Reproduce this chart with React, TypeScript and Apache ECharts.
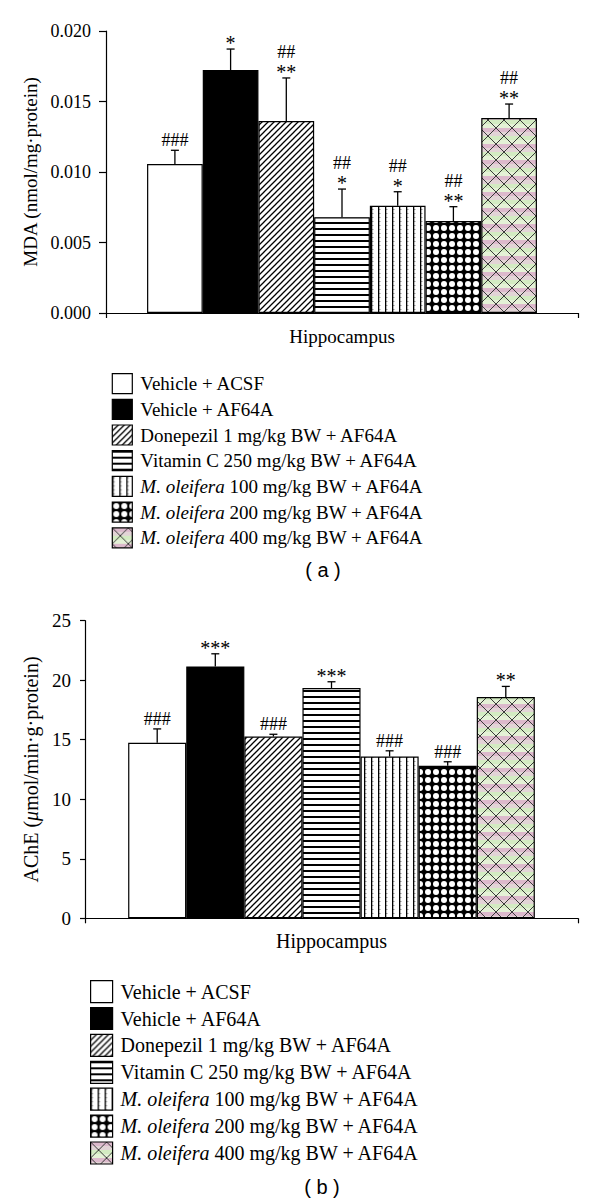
import React, { useEffect, useRef } from 'react';
import * as echarts from 'echarts';

// ---------- data ----------
const categories = ['Hippocampus'];
const groups = [
  'Vehicle + ACSF',
  'Vehicle + AF64A',
  'Donepezil 1 mg/kg BW + AF64A',
  'Vitamin C 250 mg/kg BW + AF64A',
  'M. oleifera 100 mg/kg BW + AF64A',
  'M. oleifera 200 mg/kg BW + AF64A',
  'M. oleifera 400 mg/kg BW + AF64A',
];
const mdaMean = [0.01057, 0.01723, 0.01362, 0.00679, 0.00761, 0.00652, 0.01383];
const mdaErr = [0.00097, 0.00149, 0.00305, 0.002, 0.00099, 0.00102, 0.00099];
// significance marks, bottom line first
const mdaMarks = [['###'], ['*'], ['**', '##'], ['*', '##'], ['*', '##'], ['**', '##'], ['**', '##']];
const mdaTicks = { min: 0, max: 0.02, interval: 0.005 };

const acheMean = [14.74, 21.16, 15.27, 19.35, 13.59, 12.81, 18.59];
const acheErr = [1.17, 1.06, 0.19, 0.52, 0.48, 0.34, 0.89];
const acheMarks = [['###'], ['***'], ['###'], ['***'], ['###'], ['###'], ['**']];
const acheTicks = { min: 0, max: 25, interval: 5 };

const SERIF = '"Liberation Serif", "Times New Roman", serif';
const SANS = '"Liberation Sans", Arial, sans-serif';

function tile(w: number, h: number, draw: (c: CanvasRenderingContext2D) => void) {
  const cv = document.createElement('canvas');
  cv.width = w;
  cv.height = h;
  const ctx = cv.getContext('2d')!;
  draw(ctx);
  return { image: cv, repeat: 'repeat', imageWidth: w, imageHeight: h } as any;
}

function makePatterns() {
  const diag = tile(6, 6, (c) => {
    c.fillStyle = '#fff';
    c.fillRect(0, 0, 6, 6);
    c.strokeStyle = '#000';
    c.lineWidth = 1.3;
    c.beginPath();
    c.moveTo(-1, 7); c.lineTo(7, -1);
    c.moveTo(-4, 4); c.lineTo(4, -4);
    c.moveTo(2, 10); c.lineTo(10, 2);
    c.stroke();
  });
  const horiz = tile(6, 6, (c) => {
    c.fillStyle = '#fff';
    c.fillRect(0, 0, 6, 6);
    c.fillStyle = '#000';
    c.fillRect(0, 0, 6, 2);
  });
  const vert = tile(7, 4, (c) => {
    c.fillStyle = '#fff';
    c.fillRect(0, 0, 7, 4);
    c.fillStyle = '#000';
    c.fillRect(0, 0, 1.3, 4);
    c.fillStyle = '#555';
    c.fillRect(1.3, 1, 1, 1);
  });
  const dots = tile(8, 8, (c) => {
    c.fillStyle = '#000';
    c.fillRect(0, 0, 8, 8);
    c.fillStyle = '#fff';
    c.beginPath();
    c.arc(4, 4, 3.0, 0, Math.PI * 2);
    c.fill();
  });
  const cross = tile(16, 16, (c) => {
    const bands = ['#dcb9cc', '#e2d4d6', '#d3ebc2', '#e4f1d6'];
    for (let k = 0; k < 4; k++) {
      c.fillStyle = bands[k];
      c.fillRect(0, k * 4, 16, 4);
    }
    c.strokeStyle = '#3a3a3a';
    c.lineWidth = 1;
    c.beginPath();
    c.moveTo(0, 0); c.lineTo(16, 16);
    c.moveTo(16, 0); c.lineTo(0, 16);
    c.stroke();
  });
  return ['#ffffff', '#000000', diag, horiz, vert, dots, cross];
}

function legendFormatter(name: string) {
  if (name.startsWith('M. oleifera')) {
    return '{i|M. oleifera}{n|' + name.slice('M. oleifera'.length) + '}';
  }
  return name;
}

function errRender(marks: string[][], bw: number, fs: number, gap: number) {
  return (params: any, api: any) => {
    const i = params.dataIndex;
    const base = api.coord([api.value(0), api.value(1)]);
    const top = api.coord([api.value(0), api.value(2)]);
    const x = base[0] + (i - 3) * bw;
    const st = { stroke: '#000', lineWidth: 1.3 };
    const children: any[] = [
      { type: 'line', shape: { x1: x, y1: base[1], x2: x, y2: top[1] }, style: st },
      { type: 'line', shape: { x1: x - 4, y1: top[1], x2: x + 4, y2: top[1] }, style: st },
    ];
    marks[i].forEach((t, k) => {
      const isStar = t.indexOf('*') >= 0;
      children.push({
        type: 'text',
        style: {
          text: t,
          x,
          y: top[1] - 10 - k * gap + (isStar ? 4 : 0),
          align: 'center',
          verticalAlign: 'middle',
          fontSize: isStar ? fs + 2 : fs,
          fontFamily: SERIF,
          fill: '#000',
        },
      });
    });
    return { type: 'group', children };
  };
}

export default function App() {
  const ref = useRef<HTMLDivElement>(null);
  useEffect(() => {
    if (!ref.current) return;
    const chart = echarts.init(ref.current, null, { renderer: 'svg' });
    const patterns = makePatterns();
    const bwA = 55.7;
    const bwB = 58.1;
    const axisLine = { lineStyle: { color: '#000', width: 1.2 } };

    const barSeries = (vals: number[], idx: number, bw: number) =>
      vals.map((v, i) => ({
        type: 'bar',
        name: groups[i],
        xAxisIndex: idx,
        yAxisIndex: idx,
        data: [v],
        barWidth: bw,
        barGap: '0%',
        itemStyle: { color: patterns[i], borderColor: '#000', borderWidth: 1.2 },
        emphasis: { disabled: true },
      }));

    const legendCommon = (fs: number, pad: number, size: number, gap: number, left: number, top: number) => ({
      orient: 'vertical',
      left,
      top,
      itemWidth: size,
      itemHeight: size,
      itemGap: gap,
      icon: 'rect',
      selectedMode: false,
      data: groups,
      formatter: legendFormatter,
      itemStyle: { borderColor: '#000', borderWidth: 1.2 },
      textStyle: {
        fontFamily: SERIF,
        fontSize: fs,
        color: '#000',
        lineHeight: size,
        padding: [0, 0, 0, pad],
        rich: {
          i: { fontFamily: SERIF, fontSize: fs, fontStyle: 'italic', color: '#000', lineHeight: size },
          n: { fontFamily: SERIF, fontSize: fs, color: '#000', lineHeight: size },
        },
      },
    });

    chart.setOption({
      animation: false,
      backgroundColor: '#fff',
      grid: [
        { left: 106, top: 31, width: 472, height: 282 },
        { left: 85, top: 620.7, width: 493, height: 297.6 },
      ],
      xAxis: [
        {
          type: 'category', gridIndex: 0, data: categories, axisLine,
          axisTick: { show: true, length: 5, lineStyle: { color: '#000', width: 1.2 } },
          axisLabel: { fontFamily: SERIF, fontSize: 19, color: '#000', margin: 14 },
        },
        {
          type: 'category', gridIndex: 1, data: categories, axisLine,
          axisTick: { show: true, length: 5, lineStyle: { color: '#000', width: 1.2 } },
          axisLabel: { fontFamily: SERIF, fontSize: 20, color: '#000', margin: 13 },
        },
      ],
      yAxis: [
        {
          type: 'value', gridIndex: 0, ...mdaTicks,
          axisLine: { show: true, ...axisLine },
          axisTick: { show: true, length: 7, lineStyle: { color: '#000', width: 1.2 } },
          splitLine: { show: false },
          axisLabel: { fontFamily: SERIF, fontSize: 18, color: '#000', margin: 15, formatter: (v: number) => v.toFixed(3) },
          name: 'MDA (nmol/mg·protein)',
          nameLocation: 'middle',
          nameGap: 66,
          nameTextStyle: { fontFamily: SERIF, fontSize: 19, color: '#000' },
        },
        {
          type: 'value', gridIndex: 1, ...acheTicks,
          axisLine: { show: true, ...axisLine },
          axisTick: { show: true, length: 5, lineStyle: { color: '#000', width: 1.2 } },
          splitLine: { show: false },
          axisLabel: { fontFamily: SERIF, fontSize: 19, color: '#000', margin: 14 },
          name: '{n|AChE (}{i|μ}{n|mol/min·g·protein)}',
          nameLocation: 'middle',
          nameGap: 42,
          nameTextStyle: {
            fontFamily: SERIF, fontSize: 20, color: '#000',
            rich: {
              n: { fontFamily: SERIF, fontSize: 20, color: '#000' },
              i: { fontFamily: SERIF, fontSize: 20, color: '#000', fontStyle: 'italic' },
            },
          },
        },
      ],
      legend: [
        legendCommon(19, 3, 20, 4.5, 106.7, 368),
        legendCommon(20, 3, 22, 3.7, 85, 975),
      ],
      graphic: [
        { type: 'text', style: { text: '( a )', x: 323, y: 570, align: 'center', verticalAlign: 'middle', fontFamily: SANS, fontSize: 20, fill: '#000' } },
        { type: 'text', style: { text: '( b )', x: 322, y: 1187, align: 'center', verticalAlign: 'middle', fontFamily: SANS, fontSize: 20, fill: '#000' } },
      ],
      series: [
        ...barSeries(mdaMean, 0, bwA),
        ...barSeries(acheMean, 1, bwB),
        {
          type: 'custom', xAxisIndex: 0, yAxisIndex: 0, silent: true, clip: false, z: 10,
          data: mdaMean.map((m, i) => [0, m, m + mdaErr[i]]),
          renderItem: errRender(mdaMarks, bwA, 18, 16),
        },
        {
          type: 'custom', xAxisIndex: 1, yAxisIndex: 1, silent: true, clip: false, z: 10,
          data: acheMean.map((m, i) => [0, m, m + acheErr[i]]),
          renderItem: errRender(acheMarks, bwB, 18, 16),
        },
      ],
    } as any);
    return () => chart.dispose();
  }, []);
  return (
    <div
      ref={ref}
      style={{ position: 'absolute', left: 0, top: 0, width: 600, height: 1204, background: '#fff' }}
    />
  );
}
